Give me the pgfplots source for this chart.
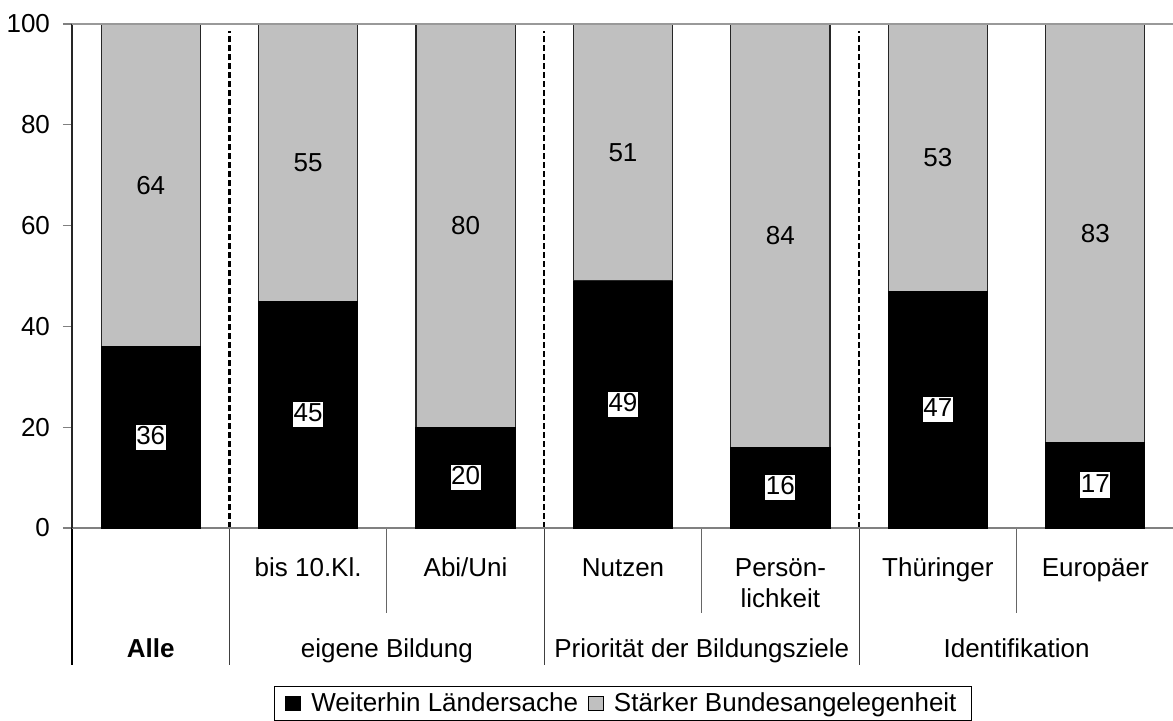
\documentclass[border=0pt]{standalone}
\usepackage{pgfplots}
\pgfplotsset{compat=1.18}
\usepackage{pgfplotstable}
\usepackage{fontspec}
\setmainfont{Liberation Sans}
\definecolor{lgray}{RGB}{192,192,192}
\pgfplotstableread{
x b g
0 36 64
1 45 55
2 20 80
3 49 51
4 16 84
5 47 53
6 17 83
}\data
\begin{document}
\begin{tikzpicture}[font=\fontsize{13}{15.6}\selectfont]
\path[use as bounding box] (-36pt,-96pt) rectangle (550.5pt,264pt);
\begin{axis}[
  at={(0,0)}, anchor=south west,
  scale only axis, width=551pt, height=252pt,
  xmin=-0.5, xmax=6.5, ymin=0, ymax=100,
  ybar stacked, bar width=0.63,
  xtick=\empty, ytick={0,20,...,100},
  ytick pos=left, tick align=outside, major tick length=4.5pt,
  ytick style={black!50, line width=0.6pt},
  yticklabel style={xshift=-3pt},
  axis line style={draw=none},
  clip=false,
  /pgf/number format/assume math mode=true,
  tick label style={font=\fontsize{13}{15.6}\selectfont},
  legend columns=2,
  legend cell align=left,
  legend style={at={(0.5,-0.3135)}, anchor=north, draw=black, line width=0.5pt,
    inner xsep=5.5pt, inner ysep=1pt,
    font=\fontsize{13}{15.6}\selectfont,
    /tikz/every even column/.append style={column sep=3pt},
    /tikz/every odd column/.append style={column sep=3pt}},
  legend image code/.code={\draw[#1,draw=black,line width=0.5pt] (0pt,-3.7pt) rectangle (7.4pt,3.7pt);},
]
\draw[black!40, line width=0.6pt] (axis cs:-0.5,100) -- (axis cs:6.5,100);
\addplot[fill=black, draw=black, line width=0.5pt,
  nodes near coords,
  every node near coord/.append style={anchor=center,
    fill=white, text=black, inner xsep=0.3pt, inner ysep=0.8pt,
    text height=0.9em, text depth=0.21em, font=\fontsize{13}{15.6}\selectfont}]
  table[x=x, y=b] {\data};
\addplot[fill=lgray, draw=black!85, line width=0.6pt,
  nodes near coords,
  every node near coord/.append style={anchor=center,
    text=black, font=\fontsize{13}{15.6}\selectfont}]
  table[x=x, y=g] {\data};
\legend{Weiterhin Ländersache, Stärker Bundesangelegenheit}
% axis lines
\draw[black!85, line width=0.6pt] (axis cs:-0.5,100) -- (axis cs:-0.5,0);
\draw[black!50, line width=0.6pt] (axis cs:-0.5,0) -- (axis cs:6.5,0);
% dashed separators
\pgfplotsinvokeforeach{0.5,2.5,4.5}{
  \draw[black, line width=1.1pt, dash pattern=on 3pt off 1.5pt] (axis cs:#1,0) -- (axis cs:#1,98.7);
  \draw[black!75, line width=0.6pt] (axis cs:#1,0) -- (axis cs:#1,-27.2);
}
% table lines
\draw[black, line width=0.6pt] (axis cs:-0.5,0) -- (axis cs:-0.5,-27.2);
\pgfplotsinvokeforeach{1.5,3.5,5.5}{
  \draw[black!60, line width=0.6pt] (axis cs:#1,0) -- (axis cs:#1,-16.9);
}
% category labels
\node[anchor=base] at (axis cs:1,-9.64) {bis 10.Kl.};
\node[anchor=base] at (axis cs:2,-9.64) {Abi/Uni};
\node[anchor=base] at (axis cs:3,-9.64) {Nutzen};
\node[anchor=base] at (axis cs:4,-9.64) {Persön-};
\node[anchor=base] at (axis cs:4,-15.7) {lichkeit};
\node[anchor=base] at (axis cs:5,-9.64) {Thüringer};
\node[anchor=base] at (axis cs:6,-9.64) {Europäer};
\node[anchor=base] at (axis cs:0,-25.65) {\bfseries Alle};
\node[anchor=base] at (axis cs:1.5,-25.65) {eigene Bildung};
\node[anchor=base] at (axis cs:3.5,-25.65) {Priorität der Bildungsziele};
\node[anchor=base] at (axis cs:5.5,-25.65) {Identifikation};
\end{axis}
\end{tikzpicture}
\end{document}
